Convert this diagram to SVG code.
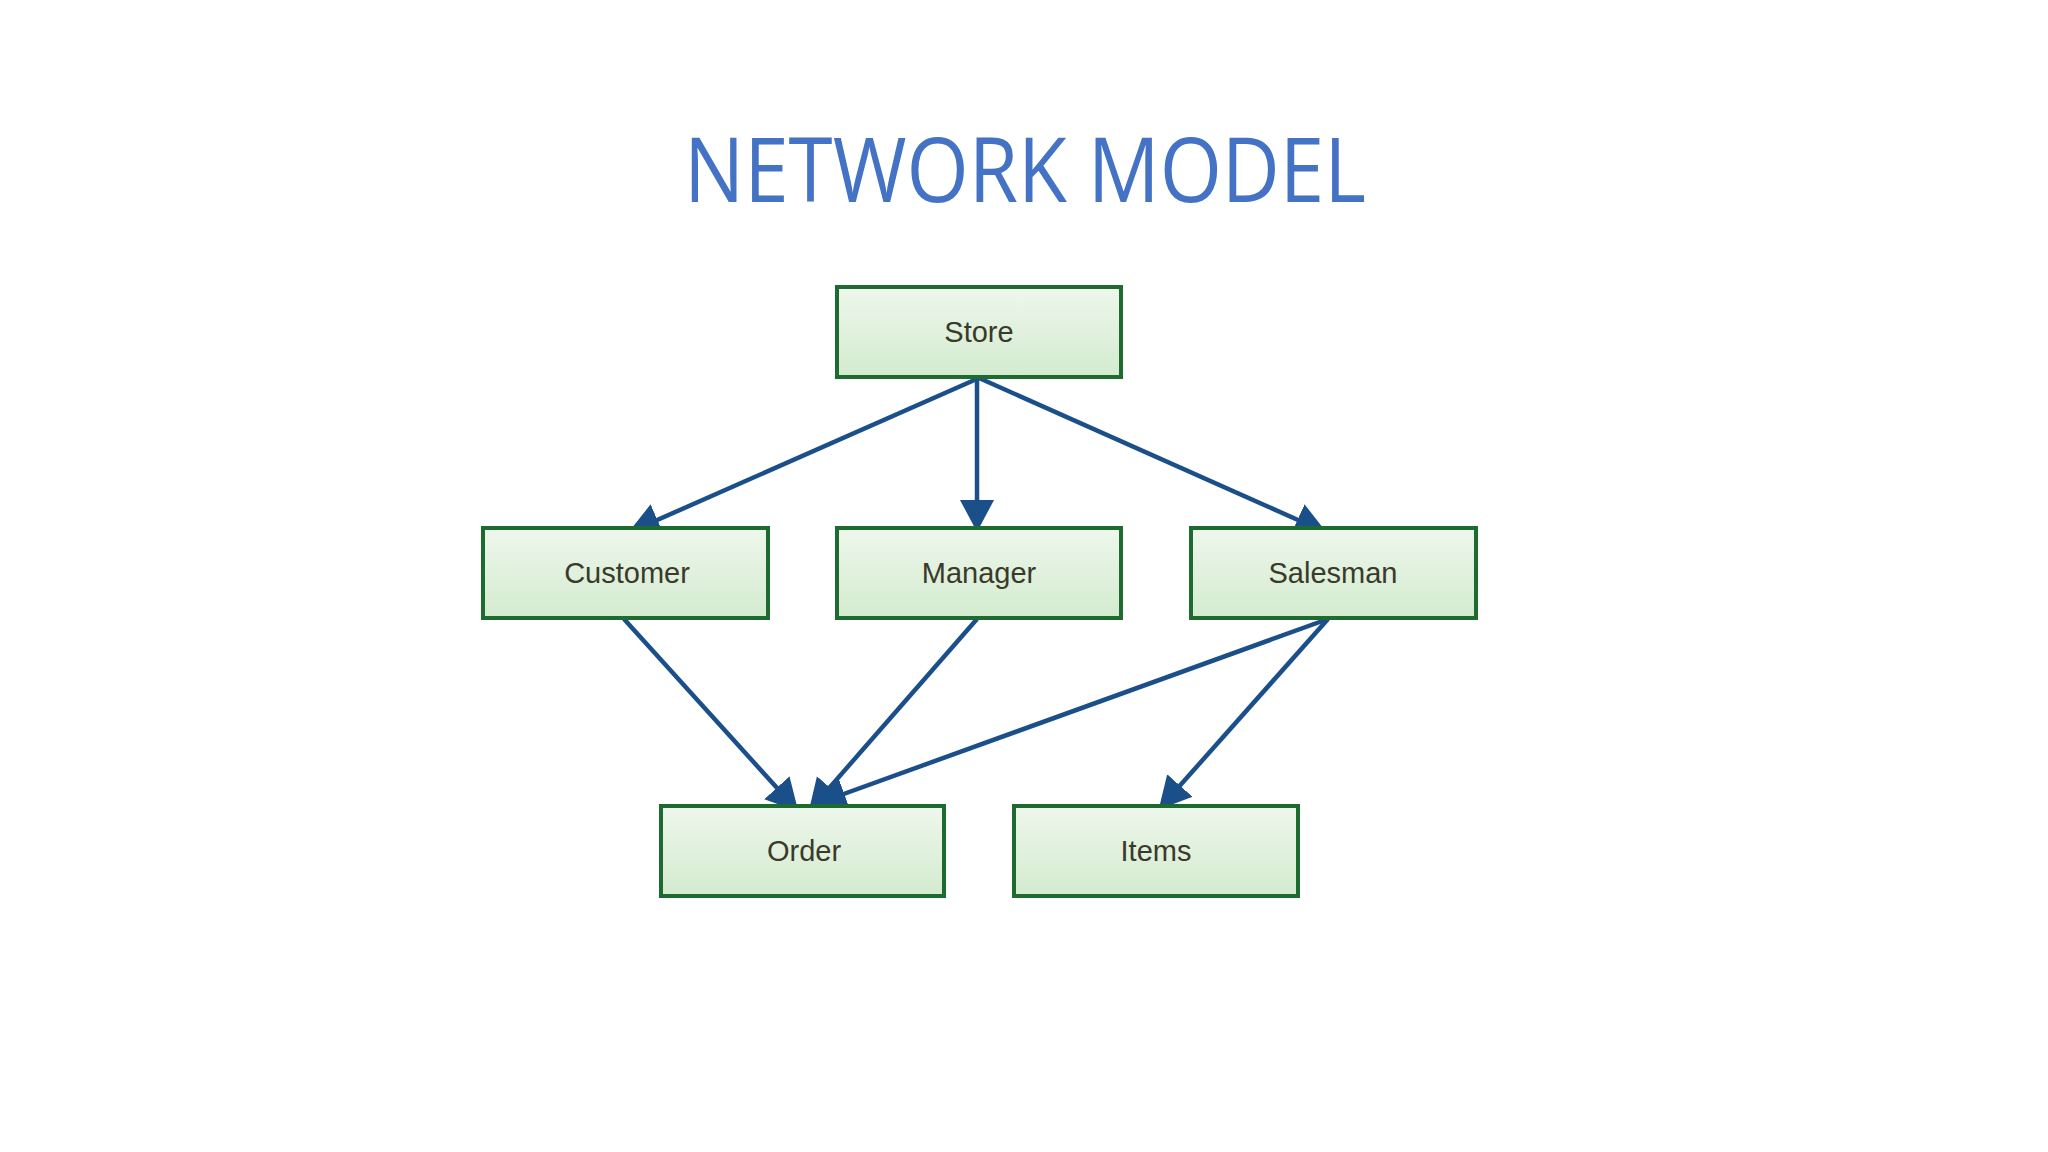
<svg xmlns="http://www.w3.org/2000/svg" width="2048" height="1152" viewBox="0 0 2048 1152">
<style>
.box{fill:url(#g);stroke:#1e6b30;stroke-width:4}
.lbl{font-family:"Liberation Sans",Arial,sans-serif;font-size:29px;fill:#3a3a2a;text-anchor:middle}
.c{stroke:#1b4f8a;stroke-width:4.5;fill:none;marker-end:url(#a)}
</style>
<defs>
<linearGradient id="g" x1="0" y1="0" x2="0" y2="1"><stop offset="0" stop-color="#eef7ec"/><stop offset="1" stop-color="#d3ebcf"/></linearGradient>
<marker id="a" markerUnits="userSpaceOnUse" markerWidth="40" markerHeight="40" refX="30" refY="17" orient="auto" viewBox="0 0 40 34"><path d="M0,0 L32,17 L0,34 Z" fill="#1b4f8a"/></marker>
</defs>
<rect width="2048" height="1152" fill="#fff"/>
<text x="1025" y="202" font-family="'Open Sans','Noto Sans',sans-serif" font-size="90" fill="#4472c4" text-anchor="middle" textLength="682" lengthAdjust="spacingAndGlyphs">NETWORK MODEL</text>
<g id="connectors">
<line class="c" x1="979" y1="378" x2="630" y2="532"/>
<line class="c" x1="977" y1="378" x2="977" y2="530"/>
<line class="c" x1="979" y1="378" x2="1325" y2="532"/>
<line class="c" x1="624" y1="619" x2="797" y2="810"/>
<line class="c" x1="977" y1="619" x2="810" y2="810"/>
<line class="c" x1="1328" y1="619" x2="816" y2="804"/>
<line class="c" x1="1328" y1="619" x2="1160" y2="808"/>
</g>
<g id="store"><rect class="box" x="837" y="287" width="284" height="90"/><text class="lbl" x="979" y="342">Store</text></g>
<g id="customer"><rect class="box" x="483" y="528" width="285" height="90"/><text class="lbl" x="627" y="583">Customer</text></g>
<g id="manager"><rect class="box" x="837" y="528" width="284" height="90"/><text class="lbl" x="979" y="583">Manager</text></g>
<g id="salesman"><rect class="box" x="1191" y="528" width="285" height="90"/><text class="lbl" x="1333" y="583">Salesman</text></g>
<g id="order"><rect class="box" x="661" y="806" width="283" height="90"/><text class="lbl" x="804" y="861">Order</text></g>
<g id="items"><rect class="box" x="1014" y="806" width="284" height="90"/><text class="lbl" x="1156" y="861">Items</text></g>
</svg>
